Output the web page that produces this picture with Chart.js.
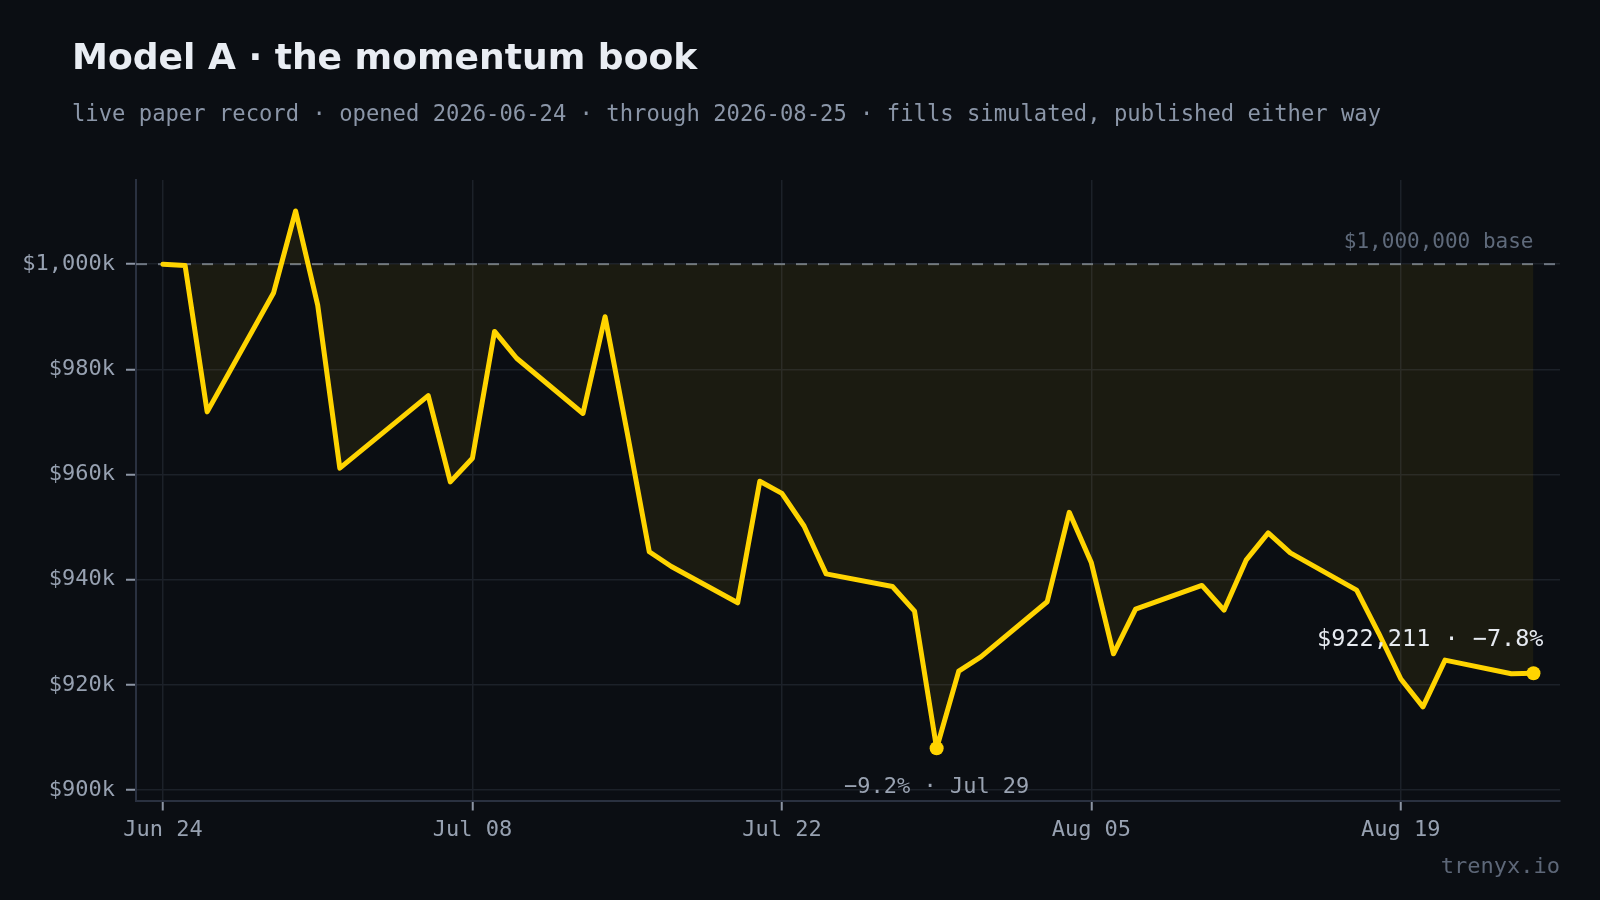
<!DOCTYPE html>
<html>
<head>
<meta charset="utf-8">
<title>Model A · the momentum book</title>
<script src="https://cdn.jsdelivr.net/npm/chart.js@4.4.1/dist/chart.umd.min.js"></script>
<style>
html, body { margin: 0; padding: 0; background: #0b0e13; }
#wrap { position: relative; width: 1600px; height: 900px; overflow: hidden; background: #0b0e13; }
#equityChart { position: absolute; left: 0; top: 0; }
.title { position: absolute; left: 72px; top: 39px; font: bold 36.1px/1 "DejaVu Sans", sans-serif; color: #e9edf3; white-space: nowrap; }
.sub { position: absolute; left: 72px; top: 102px; font: 22.2px/1 "DejaVu Sans Mono", monospace; color: #8b96a8; white-space: nowrap; }
.foot { position: absolute; right: 40px; top: 855px; font: 22px/1 "DejaVu Sans Mono", monospace; color: #5d6778; white-space: nowrap; }
</style>
</head>
<body>
<div id="wrap">
  <canvas id="equityChart" width="1600" height="900"></canvas>
  <div class="title">Model A · the momentum book</div>
  <div class="sub">live paper record · opened 2026-06-24 · through 2026-08-25 · fills simulated, published either way</div>
  <div class="foot">trenyx.io</div>
</div>
<script>
// Starting capital
const BASE = 1000000;

// Trading days (weekdays, Jul 3 closed)
const DATES = ['2026-06-24', '2026-06-25', '2026-06-26', '2026-06-29', '2026-06-30',
    '2026-07-01', '2026-07-02', '2026-07-06', '2026-07-07', '2026-07-08', '2026-07-09', '2026-07-10',
    '2026-07-13', '2026-07-14', '2026-07-15', '2026-07-16', '2026-07-17',
    '2026-07-20', '2026-07-21', '2026-07-22', '2026-07-23', '2026-07-24',
    '2026-07-27', '2026-07-28', '2026-07-29', '2026-07-30', '2026-07-31',
    '2026-08-03', '2026-08-04', '2026-08-05', '2026-08-06', '2026-08-07',
    '2026-08-10', '2026-08-11', '2026-08-12', '2026-08-13', '2026-08-14',
    '2026-08-17', '2026-08-18', '2026-08-19', '2026-08-20', '2026-08-21',
    '2026-08-24', '2026-08-25'];

// Account equity at close, USD
const EQUITY = [1000000, 999750, 971900, 994500, 1010100,
    992200, 961200, 975000, 958600, 963100, 987200, 982100,
    971600, 990000, 968000, 945300, 942500,
    935600, 958700, 956400, 950200, 941100,
    938700, 934000, 907930, 922600, 925300,
    935800, 952800, 943200, 925900, 934400,
    938900, 934200, 943700, 948900, 945100,
    938000, 929800, 921100, 915800, 924700,
    922100, 922211];

// Axis ticks
const X_TICK_DATES = ['2026-06-24', '2026-07-08', '2026-07-22', '2026-08-05', '2026-08-19'];
const X_TICK_LABELS = ['Jun 24', 'Jul 08', 'Jul 22', 'Aug 05', 'Aug 19'];
const Y_TICKS = [900000, 920000, 940000, 960000, 980000, 1000000];

const MONO = '"DejaVu Sans Mono", monospace';
const LINE_COLOR = '#ffd400';

const dayMs = 24 * 3600 * 1000;
const t0 = Date.parse(DATES[0]);
const dayOf = d => (Date.parse(d) - t0) / dayMs;

const points = DATES.map((d, i) => ({ x: dayOf(d), y: EQUITY[i] }));
const minIdx = EQUITY.indexOf(Math.min(...EQUITY));
const lastIdx = EQUITY.length - 1;

const pctText = v => {
    const p = ((v / BASE - 1) * 100).toFixed(1);
    return (p.startsWith('-') ? '\u2212' + p.slice(1) : '+' + p) + '%';
};
const shortDate = d => new Date(d).toLocaleString('en-US', { month: 'short', day: '2-digit', timeZone: 'UTC' });

/**
 * Baseline and callout labels
 */
const overlayPlugin = {
    id: 'overlay',
    beforeDatasetsDraw(chart) {
        const { ctx, chartArea: a, scales: { y } } = chart;
        const py = y.getPixelForValue(BASE);
        ctx.save();
        ctx.strokeStyle = '#6e7682';
        ctx.lineWidth = 2;
        ctx.setLineDash([11, 11]);
        ctx.beginPath();
        ctx.moveTo(a.left, py);
        ctx.lineTo(a.right, py);
        ctx.stroke();
        ctx.restore();
    },
    afterDatasetsDraw(chart) {
        const { ctx, scales: { y } } = chart;
        const meta = chart.getDatasetMeta(0);
        const minPt = meta.data[minIdx];
        const endPt = meta.data[lastIdx];
        const py = y.getPixelForValue(BASE);

        ctx.save();
        ctx.textBaseline = 'middle';

        ctx.font = '21px ' + MONO;
        ctx.fillStyle = '#5f6a7b';
        ctx.textAlign = 'right';
        ctx.fillText('$1,000,000 base', endPt.x, py - 21.5);

        ctx.font = '22px ' + MONO;
        ctx.fillStyle = '#9aa3b2';
        ctx.textAlign = 'center';
        ctx.fillText(pctText(EQUITY[minIdx]) + ' \u00b7 ' + shortDate(DATES[minIdx]), minPt.x, minPt.y + 39);

        ctx.font = '23.5px ' + MONO;
        ctx.fillStyle = '#e6eaf0';
        ctx.textAlign = 'right';
        ctx.fillText('$' + EQUITY[lastIdx].toLocaleString('en-US') + ' \u00b7 ' + pctText(EQUITY[lastIdx]),
            endPt.x + 10, endPt.y - 33);
        ctx.restore();
    }
};

const ctx = document.getElementById('equityChart');
new Chart(ctx, {
    type: 'line',
    data: {
        datasets: [{
            data: points,
            borderColor: LINE_COLOR,
            borderWidth: 5,
            borderJoinStyle: 'round',
            borderCapStyle: 'round',
            tension: 0,
            fill: { value: BASE },
            backgroundColor: 'rgba(255, 214, 0, 0.065)',
            pointRadius: c => (c.dataIndex === minIdx || c.dataIndex === lastIdx) ? 7 : 0,
            pointBackgroundColor: LINE_COLOR,
            pointBorderWidth: 0,
            pointHoverRadius: 0
        }]
    },
    options: {
        responsive: false,
        animation: false,
        devicePixelRatio: 1,
        layout: { padding: { top: 180, right: 40, bottom: 0, left: 0 } },
        plugins: {
            legend: { display: false },
            tooltip: { enabled: false }
        },
        scales: {
            x: {
                type: 'linear',
                min: -1.22,
                max: 63.2,
                afterBuildTicks: s => { s.ticks = X_TICK_DATES.map(d => ({ value: dayOf(d) })); },
                afterFit: s => { s.height = 99.5; },
                ticks: {
                    callback: (v, i) => X_TICK_LABELS[i],
                    color: '#97a1b1',
                    font: { family: MONO, size: 22 },
                    padding: 7,
                    maxRotation: 0
                },
                grid: { color: '#1c2129', lineWidth: 1.5, tickLength: 10, tickColor: '#8c95a4', tickWidth: 2 },
                border: { color: '#2a3140', width: 2 }
            },
            y: {
                min: 898000,
                max: 1016000,
                afterBuildTicks: s => { s.ticks = Y_TICKS.map(v => ({ value: v })); },
                afterFit: s => { s.width = 136; },
                ticks: {
                    callback: v => '$' + (v / 1000).toLocaleString('en-US') + 'k',
                    color: '#97a1b1',
                    font: { family: MONO, size: 22 },
                    padding: 11
                },
                grid: { color: '#1c2129', lineWidth: 1.5, tickLength: 10, tickColor: '#8c95a4', tickWidth: 2 },
                border: { color: '#2a3140', width: 2 }
            }
        }
    },
    plugins: [overlayPlugin]
});
</script>
</body>
</html>
